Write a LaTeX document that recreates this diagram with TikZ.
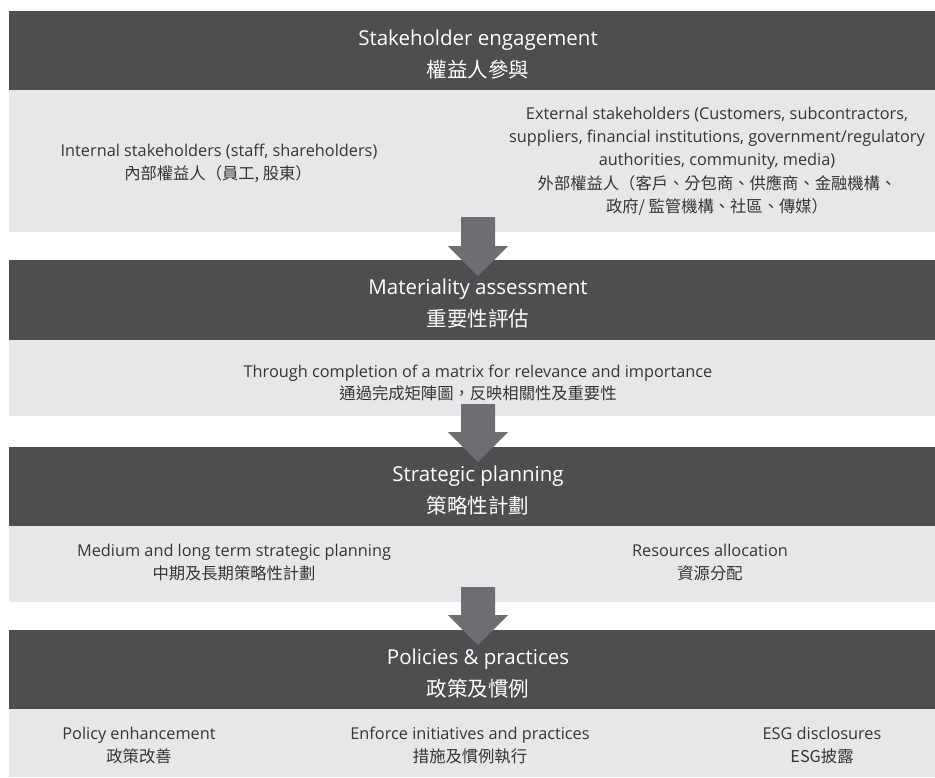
\documentclass[tikz,border=0pt]{standalone}
\usepackage{fontspec}
\setmainfont{Open Sans}
\newfontfamily\cjk{Noto Sans CJK TC}
\usetikzlibrary{calc}
\definecolor{hdr}{HTML}{4D4E50}
\definecolor{lite}{HTML}{E6E7E8}
\definecolor{arr}{HTML}{6D6E71}
\definecolor{txt}{HTML}{353537}
\newcommand\blockarr[2]{%
  \fill[arr] ($(#1)+(-17,0)$) -- ($(#1)+(17,0)$) -- ($(#2)+(17,-30)$) -- ($(#2)+(30,-30)$)
    -- (#2) -- ($(#2)+(-30,-30)$) -- ($(#2)+(-17,-30)$) -- cycle;}
\begin{document}
\begin{tikzpicture}[x=1pt,y=-1pt,
  hdrbox/.style={fill=hdr, draw=none, inner sep=0pt, minimum width=926pt, minimum height=#1, anchor=north west},
  litebox/.style={fill=lite, draw=none, inner sep=0pt, minimum width=926pt, minimum height=#1, anchor=north west},
  htitle/.style={anchor=base, inner sep=0pt, text=white, font=\fontsize{20.5}{24}\selectfont},
  hcjk/.style={anchor=base, inner sep=0pt, text=white, font=\fontsize{20.5}{24}\selectfont\cjk},
  body/.style={anchor=base, inner sep=0pt, text=txt, font=\fontsize{16.3}{20}\selectfont},
  bcjk/.style={anchor=base, inner sep=0pt, text=txt, font=\fontsize{16.3}{20}\selectfont\cjk}]
\useasboundingbox (0,0) rectangle (935,777);
\fill[white] (0,0) rectangle (935,777);
% boxes
\node[hdrbox=79pt] (H1) at (9,11) {};
\node[litebox=142pt] (L1) at (9,90) {};
\node[hdrbox=80pt] (H2) at (9,260) {};
\node[litebox=76pt] (L2) at (9,340) {};
\node[hdrbox=79pt] (H3) at (9,447) {};
\node[litebox=76pt] (L3) at (9,526) {};
\node[hdrbox=79pt] (H4) at (9,630) {};
\node[litebox=68pt] (L4) at (9,709) {};
% arrows
\coordinate (a1s) at (478,217); \coordinate (a1e) at (478,276);
\coordinate (a2s) at (478,404); \coordinate (a2e) at (478,462);
\coordinate (a3s) at (478,587); \coordinate (a3e) at (478,645);
\blockarr{a1s}{a1e}
\blockarr{a2s}{a2e}
\blockarr{a3s}{a3e}
% header 1
\node[htitle] (t1a) at (478,45) {Stakeholder engagement};
\node[hcjk] (t1b) at (478,77) {權益人參與};
% light 1
\node[body] (i1) at (219,156) {Internal stakeholders (staff, shareholders)};
\node[bcjk] (i2) at (218,179) {內部權益人（員工, 股東）};
\node[body] (e1) at (717,119) {External stakeholders (Customers, subcontractors,};
\node[body] (e2) at (717,142) {suppliers, financial institutions, government/regulatory};
\node[body] (e3) at (717,165) {authorities, community, media)};
\node[bcjk] (e4) at (717,189) {外部權益人（客戶、分包商、供應商、金融機構、};
\node[bcjk] (e5) at (717,212) {政府/ 監管機構、社區、傳媒）};
% header 2
\node[htitle] (t2a) at (478,294) {Materiality assessment};
\node[hcjk] (t2b) at (478,326) {重要性評估};
\node[body] (m1) at (478,377) {Through completion of a matrix for relevance and importance};
\node[bcjk] (m2) at (478,399) {通過完成矩陣圖，反映相關性及重要性};
% header 3
\node[htitle] (t3a) at (478,481) {Strategic planning};
\node[hcjk] (t3b) at (478,513) {策略性計劃};
\node[body] (s1) at (234,556) {Medium and long term strategic planning};
\node[bcjk] (s2) at (234,579) {中期及長期策略性計劃};
\node[body] (r1) at (710,556) {Resources allocation};
\node[bcjk] (r2) at (710,579) {資源分配};
% header 4
\node[htitle] (t4a) at (478,664) {Policies \& practices};
\node[hcjk] (t4b) at (478,696) {政策及慣例};
\node[body] (p1) at (139,739) {Policy enhancement};
\node[bcjk] (p2) at (139,762) {政策改善};
\node[body] (n1) at (470,739) {Enforce initiatives and practices};
\node[bcjk] (n2) at (470,762) {措施及慣例執行};
\node[body] (g1) at (822,739) {ESG disclosures};
\node[bcjk] (g2) at (822,762) {ESG披露};
\end{tikzpicture}
\end{document}
